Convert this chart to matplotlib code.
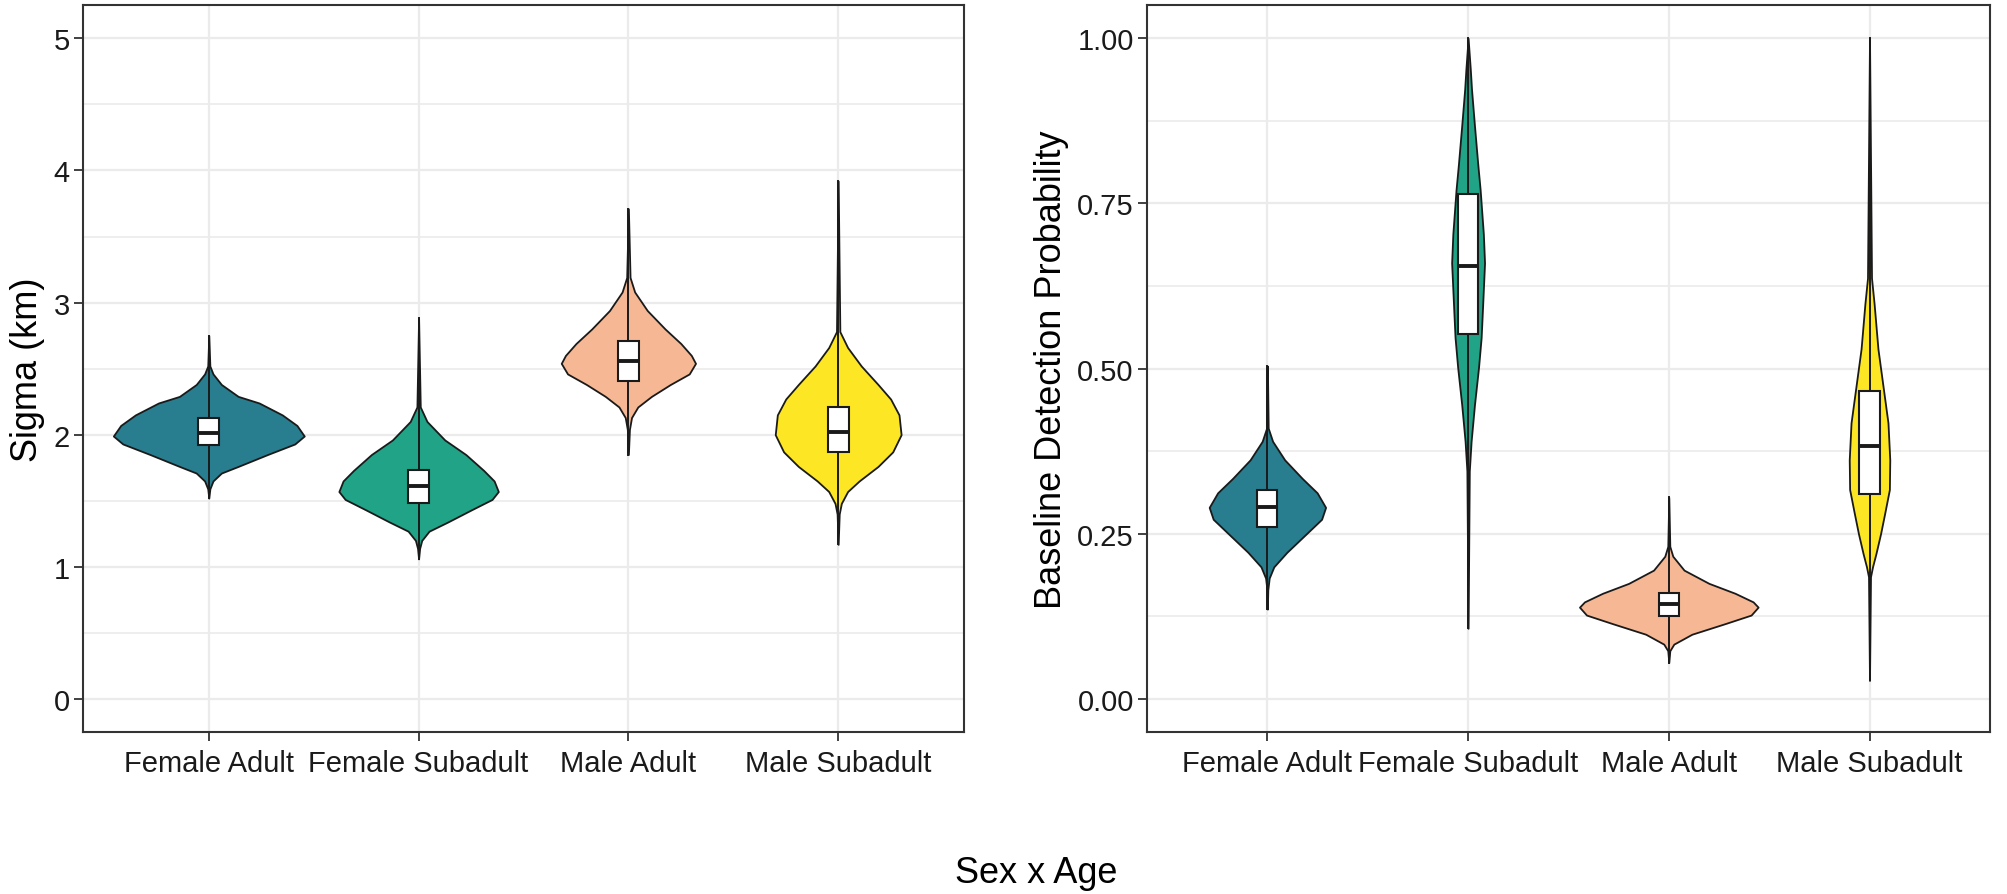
import numpy as np
import matplotlib
matplotlib.use('Agg')
import matplotlib.pyplot as plt
from matplotlib.ticker import MultipleLocator

plt.rcParams['font.family'] = ['Liberation Sans', 'DejaVu Sans']

# categorias e cores
grupos = ['Female Adult', 'Female Subadult', 'Male Adult', 'Male Subadult']
cores = ['#287D8E', '#20A386', '#F6B894', '#FDE725']

# perfis dos violinos: valores (y) e meia-largura (em unidades de categoria), lidos da figura
# painel esquerdo - Sigma (km)
sig_y = [
    [2.75, 2.52, 2.46, 2.38, 2.29, 2.24, 2.15, 2.07, 1.99, 1.93, 1.85, 1.76, 1.71, 1.65, 1.59, 1.52],
    [2.88, 2.21, 2.10, 1.96, 1.85, 1.73, 1.65, 1.57, 1.51, 1.43, 1.34, 1.27, 1.20, 1.14, 1.06],
    [3.71, 3.19, 3.08, 2.94, 2.80, 2.69, 2.60, 2.54, 2.46, 2.38, 2.29, 2.21, 2.13, 2.04, 1.85],
    [3.92, 2.78, 2.66, 2.52, 2.38, 2.27, 2.15, 2.00, 1.87, 1.76, 1.65, 1.57, 1.48, 1.40, 1.17],
]
sig_w = [
    [0.0, 0.005, 0.02, 0.06, 0.14, 0.24, 0.35, 0.42, 0.455, 0.41, 0.28, 0.14, 0.06, 0.02, 0.005, 0.0],
    [0.0, 0.008, 0.04, 0.125, 0.225, 0.31, 0.36, 0.38, 0.35, 0.25, 0.14, 0.05, 0.015, 0.005, 0.0],
    [0.0, 0.008, 0.03, 0.09, 0.175, 0.25, 0.30, 0.32, 0.29, 0.20, 0.11, 0.045, 0.015, 0.005, 0.0],
    [0.0, 0.008, 0.045, 0.11, 0.19, 0.25, 0.29, 0.30, 0.26, 0.19, 0.10, 0.045, 0.015, 0.005, 0.0],
]
# caixas: q1, mediana, q3, minimo e maximo do bigode
sig_q1 = [1.92, 1.48, 2.41, 1.87]
sig_med = [2.01, 1.61, 2.56, 2.02]
sig_q3 = [2.13, 1.73, 2.71, 2.21]
sig_lo = [1.52, 1.06, 1.85, 1.17]
sig_hi = [2.75, 2.88, 3.71, 3.92]

# painel direito - Baseline Detection Probability
p_y = [
    [0.504, 0.41, 0.39, 0.362, 0.334, 0.312, 0.29, 0.272, 0.25, 0.222, 0.20, 0.183, 0.165, 0.136],
    [1.0, 0.953, 0.923, 0.867, 0.81, 0.771, 0.704, 0.66, 0.586, 0.547, 0.502, 0.446, 0.39, 0.345, 0.107],
    [0.305, 0.231, 0.216, 0.195, 0.175, 0.16, 0.147, 0.139, 0.127, 0.114, 0.098, 0.083, 0.073, 0.055],
    [1.0, 0.637, 0.598, 0.53, 0.474, 0.418, 0.362, 0.317, 0.28, 0.25, 0.22, 0.20, 0.185, 0.028],
]
p_w = [
    [0.0, 0.004, 0.026, 0.086, 0.173, 0.248, 0.29, 0.27, 0.194, 0.097, 0.032, 0.009, 0.002, 0.0],
    [0.0, 0.011, 0.017, 0.032, 0.048, 0.06, 0.076, 0.082, 0.071, 0.065, 0.052, 0.032, 0.015, 0.006, 0.0],
    [0.0, 0.005, 0.02, 0.076, 0.2, 0.33, 0.42, 0.445, 0.41, 0.28, 0.115, 0.025, 0.005, 0.0],
    [0.0, 0.01, 0.023, 0.042, 0.067, 0.092, 0.101, 0.099, 0.075, 0.055, 0.032, 0.015, 0.005, 0.0],
]
p_q1 = [0.26, 0.553, 0.125, 0.31]
p_med = [0.29, 0.656, 0.143, 0.383]
p_q3 = [0.317, 0.765, 0.16, 0.466]
p_lo = [0.136, 0.107, 0.055, 0.028]
p_hi = [0.504, 1.0, 0.305, 1.0]


def painel(ax, ys, ws, q1, med, q3, lo, hi, ylim, maior, menor, fmt):
    ax.set_facecolor('white')
    for i in range(4):
        x = i + 1
        y = np.array(ys[i])
        w = np.array(ws[i])
        # violino
        ax.fill_betweenx(y, x - w, x + w, facecolor=cores[i], edgecolor='#1a1a1a',
                         linewidth=1.3, zorder=3)
        # bigode
        ax.plot([x, x], [lo[i], hi[i]], color='#1a1a1a', linewidth=1.4, zorder=4)
        # caixa
        ax.add_patch(plt.Rectangle((x - 0.05, q1[i]), 0.1, q3[i] - q1[i], facecolor='white',
                                   edgecolor='#1a1a1a', linewidth=1.5, zorder=5))
        ax.plot([x - 0.05, x + 0.05], [med[i], med[i]], color='#1a1a1a', linewidth=2.8,
                zorder=6, solid_capstyle='butt')
    ax.set_xlim(0.4, 4.6)
    amp = ylim[1] - ylim[0]
    ax.set_ylim(ylim[0] - 0.05 * amp, ylim[1] + 0.05 * amp)
    ax.set_xticks(range(1, 5))
    ax.set_xticklabels(grupos)
    ax.yaxis.set_major_locator(MultipleLocator(maior))
    ax.yaxis.set_minor_locator(MultipleLocator(menor))
    ax.yaxis.set_major_formatter(fmt)
    ax.grid(which='major', color='#EBEBEB', linewidth=1.6, zorder=0)
    ax.grid(which='minor', axis='y', color='#EBEBEB', linewidth=1.2, zorder=0)
    ax.set_axisbelow(True)
    ax.tick_params(which='major', length=6.5, width=1.3, color='#333333', labelsize=21,
                   labelcolor='#1a1a1a', pad=3)
    ax.tick_params(axis='x', pad=6)
    ax.tick_params(which='minor', length=0)
    for s in ax.spines.values():
        s.set_color('#333333')
        s.set_linewidth(1.5)


fig = plt.figure(figsize=(20.08, 8.95), dpi=100)
ax1 = fig.add_axes([0.0413, 0.181, 0.4388, 0.812])
ax2 = fig.add_axes([0.5712, 0.181, 0.4198, 0.812])

painel(ax1, sig_y, sig_w, sig_q1, sig_med, sig_q3, sig_lo, sig_hi, (0, 5), 1, 0.5, '{x:.0f}')
painel(ax2, p_y, p_w, p_q1, p_med, p_q3, p_lo, p_hi, (0, 1), 0.25, 0.125, '{x:.2f}')

ax1.set_ylabel('Sigma (km)', fontsize=26, labelpad=6)
ax2.set_ylabel('Baseline Detection Probability', fontsize=26, labelpad=6)
fig.text(0.516, 0.024, 'Sex x Age', fontsize=26, ha='center', va='center')

fig.savefig('out.png', dpi=100)
